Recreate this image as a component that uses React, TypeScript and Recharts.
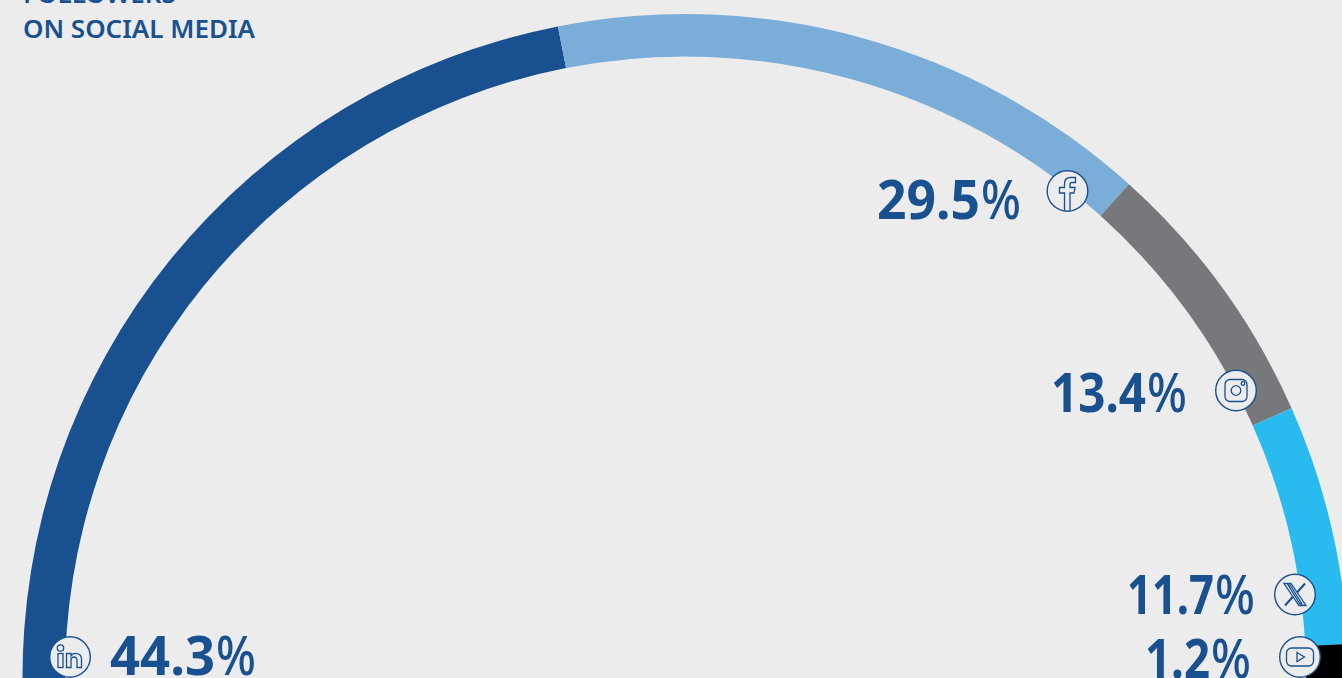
import { PieChart, Pie, Cell } from "recharts";

const platforms = ["LinkedIn", "Facebook", "Instagram", "X", "YouTube"];
const shares = [44.3, 29.5, 13.4, 11.7, 1.2];
const sliceColors = ["#19508f", "#7aadd7", "#77787b", "#29bbf0", "#000000"];

const INK = "#19508f";
const BG = "#ececec";
const FONT = "'Noto Sans', sans-serif";

const data = platforms.map((name, i) => ({ name, value: shares[i] }));

// where each percentage and its round icon sit
const labelSpots = [
  { x: 110, y: 675, w: 105, px: 216, ix: 70, iy: 657 },
  { x: 877, y: 219, w: 103, px: 981, ix: 1067.5, iy: 191 },
  { x: 1051, y: 412, w: 95, px: 1147, ix: 1236, iy: 390.5 },
  { x: 1127, y: 614, w: 87, px: 1215, ix: 1295, iy: 594.5 },
  { x: 1145, y: 678, w: 65, px: 1211, ix: 1300, iy: 657 },
];

function Glyph({ name }: { name: string }) {
  const line = { fill: "none", stroke: INK, strokeWidth: 1.3 };
  if (name === "Facebook") {
    return (
      <path
        {...line}
        d="M-3 20 V2 H-8 V-3.5 H-3 V-7 C-3 -12 0 -13.5 3 -13.5 H8 V-8.5 H4.5 C3 -8.5 2.5 -8 2.5 -6.5 V-3.5 H7.5 L6.5 2 H2.5 V20"
      />
    );
  }
  if (name === "Instagram") {
    return (
      <g {...line}>
        <rect x={-11} y={-11} width={22} height={22} rx={5} />
        <circle r={4.8} />
        <circle cx={7} cy={-7} r={1.8} />
      </g>
    );
  }
  if (name === "X") {
    return (
      <g {...line}>
        <path d="M-11 -11 H-4 L11 11 H4 Z" />
        <path d="M-7 -9.5 H-5 L7 9.5 H5 Z" />
        <path d="M10 -11 L2 -2 M-10 11 L-2 2" strokeWidth={2} />
      </g>
    );
  }
  if (name === "YouTube") {
    return (
      <g {...line}>
        <rect x={-13.5} y={-9} width={27} height={18} rx={5} />
        <path d="M-3 -4.5 L4.5 0 L-3 4.5 Z" />
      </g>
    );
  }
  return (
    <g {...line}>
      <circle cx={-9.5} cy={-9} r={3.2} />
      <rect x={-12} y={-3.5} width={5} height={14} />
      <path d="M-3.5 10.5 V-3.5 H1 V-1 C3 -4.5 11.5 -5 11.5 2 V10.5 H7 V3 C7 -1 1 -1 1 3 V10.5 Z" />
    </g>
  );
}

export default function App() {
  return (
    <div
      style={{
        position: "absolute",
        top: 0,
        left: 0,
        width: 1342,
        height: 678,
        background: BG,
        overflow: "hidden",
      }}
    >
      <PieChart width={1342} height={678} margin={{ top: 0, right: 0, bottom: 0, left: 0 }}>
        {/* black cap carries the ring past the bottom edge */}
        <Pie
          data={[{ name: "cap", value: 1 }]}
          dataKey="value"
          cx={685.5}
          cy={677}
          innerRadius={620.5}
          outerRadius={663}
          startAngle={2}
          endAngle={-2}
          fill="#000000"
          stroke="none"
          isAnimationActive={false}
        />
        <Pie
          data={data}
          dataKey="value"
          nameKey="name"
          cx={685.5}
          cy={677}
          innerRadius={620.5}
          outerRadius={663}
          startAngle={180.8}
          endAngle={0.7}
          stroke="none"
          isAnimationActive={false}
        >
          {data.map((d, i) => (
            <Cell key={d.name} fill={sliceColors[i]} />
          ))}
        </Pie>
      </PieChart>

      {/* labels and icons sit above the ring */}
      <svg width={1342} height={678} style={{ position: "absolute", top: 0, left: 0 }}>
        <text x={23} y={3} fontFamily={FONT} fontSize={26} fontWeight={600} fill={INK}>
          FOLLOWERS
        </text>
        <text x={23} y={38} fontFamily={FONT} fontSize={26} fontWeight={600} fill={INK}>
          ON SOCIAL MEDIA
        </text>
        {data.map((d, i) => {
          const spot = labelSpots[i];
          return (
            <g key={d.name}>
              <text
                x={spot.x}
                y={spot.y}
                textLength={spot.w}
                lengthAdjust="spacingAndGlyphs"
                fontFamily={FONT}
                fontSize={53}
                fontWeight={700}
                fill={INK}
              >
                {d.value.toFixed(1)}
              </text>
              <text
                x={spot.px}
                y={spot.y}
                textLength={40}
                lengthAdjust="spacingAndGlyphs"
                fontFamily={FONT}
                fontSize={54}
                fontWeight={500}
                fill={INK}
              >
                %
              </text>
              <g transform={`translate(${spot.ix} ${spot.iy})`}>
                <circle r={20.3} fill={BG} stroke={INK} strokeWidth={1.4} />
                <Glyph name={d.name} />
              </g>
            </g>
          );
        })}
      </svg>
    </div>
  );
}
